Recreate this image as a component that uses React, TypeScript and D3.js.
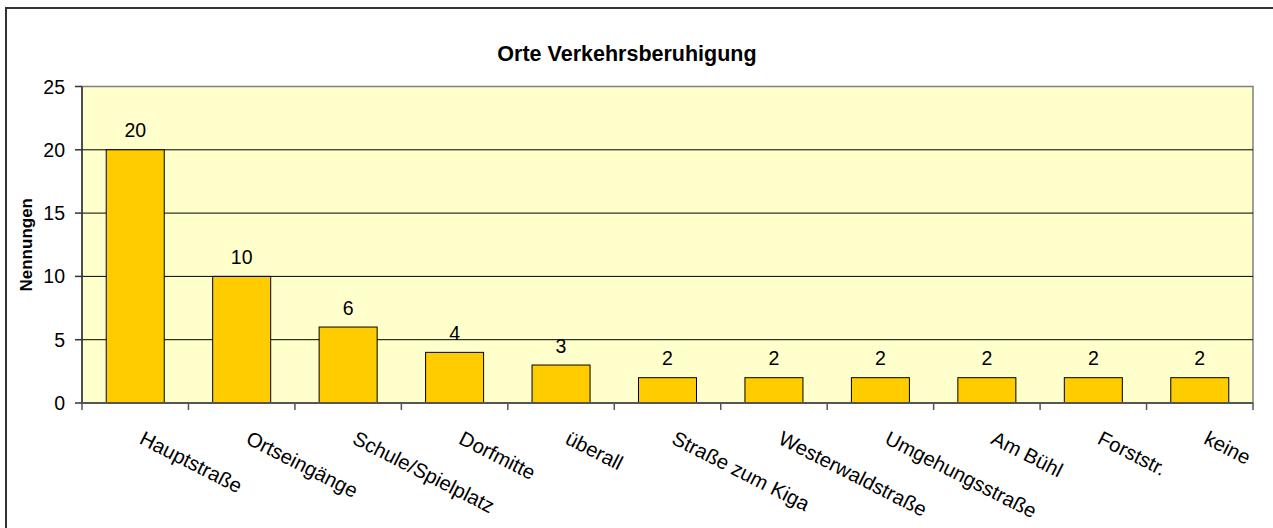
import React from "react";
import * as d3 from "d3";

const categories = [
  "Hauptstraße",
  "Ortseingänge",
  "Schule/Spielplatz",
  "Dorfmitte",
  "überall",
  "Straße zum Kiga",
  "Westerwaldstraße",
  "Umgehungsstraße",
  "Am Bühl",
  "Forststr.",
  "keine",
];
const values = [20, 10, 6, 4, 3, 2, 2, 2, 2, 2, 2];
const yTicks = [0, 5, 10, 15, 20, 25];
const title = "Orte Verkehrsberuhigung";
const yTitle = "Nennungen";

const W = 1273;
const H = 528;
const plot = { left: 82, right: 1253, top: 86.5, bottom: 403 };
const FONT = "'Liberation Sans', Arial, sans-serif";

export default function App() {
  const x = d3
    .scaleBand<string>()
    .domain(categories)
    .range([plot.left, plot.right])
    .paddingInner(0.455)
    .paddingOuter(0.2275);
  const y = d3.scaleLinear().domain([0, 25]).range([plot.bottom, plot.top]);
  const step = x.step();
  const boundaries = d3.range(categories.length + 1).map((i) => plot.left + i * step);

  return (
    <svg
      width={W}
      height={H}
      style={{ position: "absolute", left: 0, top: 0, background: "#fff" }}
      fontFamily={FONT}
    >
      {/* outer chart border */}
      <rect x={6} y={8} width={W + 10} height={H + 10} fill="#fff" stroke="#333" strokeWidth={2} />
      {/* title */}
      <text x={627} y={61} textAnchor="middle" fontSize={21.5} fontWeight="bold" fill="#000">
        {title}
      </text>
      {/* plot background */}
      <rect
        x={plot.left}
        y={plot.top}
        width={plot.right - plot.left}
        height={plot.bottom - plot.top}
        fill="#FFFFCC"
        stroke="#808080"
        strokeWidth={1.5}
      />
      {/* gridlines */}
      {yTicks
        .filter((t) => t > 0 && t < 25)
        .map((t) => (
          <line key={t} x1={plot.left} x2={plot.right} y1={y(t)} y2={y(t)} stroke="#000" strokeWidth={1} />
        ))}
      {/* bars */}
      {categories.map((c, i) => (
        <rect
          key={c}
          x={x(c)}
          y={y(values[i])}
          width={x.bandwidth()}
          height={y(0) - y(values[i])}
          fill="#FFCC00"
          stroke="#000"
          strokeWidth={1}
        />
      ))}
      {/* value labels */}
      {categories.map((c, i) => (
        <text
          key={c}
          x={(x(c) as number) + x.bandwidth() / 2}
          y={y(values[i]) - 12.5}
          textAnchor="middle"
          fontSize={19.5}
          fill="#000"
        >
          {values[i]}
        </text>
      ))}
      {/* y axis */}
      <line x1={plot.left} x2={plot.left} y1={plot.top} y2={plot.bottom} stroke="#333" strokeWidth={1.5} />
      {yTicks.map((t) => (
        <g key={t}>
          <line x1={plot.left - 7} x2={plot.left} y1={y(t)} y2={y(t)} stroke="#333" strokeWidth={1.5} />
          <text x={plot.left - 17} y={y(t) + 7} textAnchor="end" fontSize={19.5} fill="#000">
            {t}
          </text>
        </g>
      ))}
      {/* x axis */}
      <line x1={plot.left} x2={plot.right} y1={plot.bottom} y2={plot.bottom} stroke="#555" strokeWidth={2} />
      {boundaries.map((bx, i) => (
        <line key={i} x1={bx} x2={bx} y1={plot.bottom} y2={plot.bottom + 7} stroke="#555" strokeWidth={1.5} />
      ))}
      {categories.map((c) => {
        const cx = (x(c) as number) + x.bandwidth() / 2;
        return (
          <text
            key={c}
            transform={`translate(${cx + 3},${443}) rotate(27)`}
            fontSize={20.3}
            fill="#000"
          >
            {c}
          </text>
        );
      })}
      {/* y title */}
      <text
        transform={`translate(32,${(plot.top + plot.bottom) / 2}) rotate(-90)`}
        textAnchor="middle"
        fontSize={17}
        fontWeight="bold"
        fill="#000"
      >
        {yTitle}
      </text>
    </svg>
  );
}
